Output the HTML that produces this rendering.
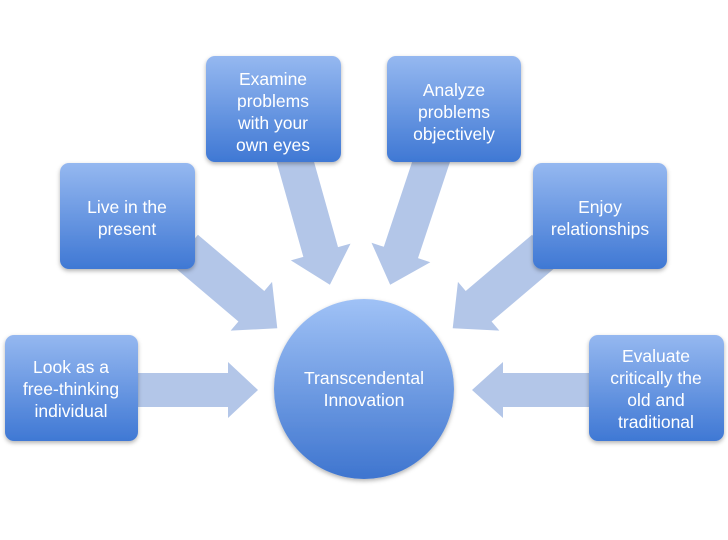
<!DOCTYPE html>
<html><head><meta charset="utf-8"><style>
body{margin:0;background:#fff;width:728px;height:540px;overflow:hidden}
svg{display:block}
text{font-family:"Liberation Sans",sans-serif;font-size:17.5px;fill:#fff;text-anchor:middle}
</style></head><body>
<svg width="728" height="540" viewBox="0 0 728 540">
<defs>
<linearGradient id="bx" x1="0" y1="0" x2="0" y2="1"><stop offset="0" stop-color="#95b8f0"/><stop offset="1" stop-color="#3f78d4"/></linearGradient>
<linearGradient id="ci" x1="0" y1="0" x2="0" y2="1"><stop offset="0" stop-color="#a0c2f6"/><stop offset="1" stop-color="#3e75cf"/></linearGradient>
<filter id="sh" x="-10%" y="-10%" width="130%" height="130%"><feDropShadow dx="0" dy="2" stdDeviation="2" flood-color="#000" flood-opacity="0.3"/></filter>
</defs>
<g fill="#b3c6e8">
<g transform="translate(138,390)"><polygon points="0,-17 90,-17 90,-28 120,0 90,28 90,17 0,17"/></g>
<g transform="translate(589,390) rotate(180)"><polygon points="0,-17 86,-17 86,-28 117,0 86,28 86,17 0,17"/></g>
<g transform="translate(185,250) rotate(40.3)"><polygon points="0,-20 87,-20 87,-32 121,0 87,32 87,20 0,20"/></g>
<g transform="translate(545,250) rotate(139.7)"><polygon points="0,-20 87,-20 87,-32 121,0 87,32 87,20 0,20"/></g>
<g transform="translate(292,150) rotate(74.3)"><polygon points="0,-18 106,-18 106,-31 140,0 106,31 106,18 0,18"/></g>
<g transform="translate(435,150) rotate(108.4)"><polygon points="0,-18 108,-18 108,-31 142,0 108,31 108,18 0,18"/></g>
</g>
<g filter="url(#sh)" fill="url(#bx)">
<rect x="5" y="335" width="133" height="106" rx="9"/>
<rect x="60" y="163" width="135" height="106" rx="9"/>
<rect x="206" y="56" width="135" height="106" rx="9"/>
<rect x="387" y="56" width="134" height="106" rx="9"/>
<rect x="533" y="163" width="134" height="106" rx="9"/>
<rect x="589" y="335" width="135" height="106" rx="9"/>
<circle cx="364" cy="389" r="90" fill="url(#ci)"/>
</g>
<text x="71" y="373">Look as a</text><text x="71" y="395">free-thinking</text><text x="71" y="417">individual</text>
<text x="127" y="213">Live in the</text><text x="127" y="235">present</text>
<text x="273" y="85">Examine</text><text x="273" y="107">problems</text><text x="273" y="129">with your</text><text x="273" y="151">own eyes</text>
<text x="454" y="96">Analyze</text><text x="454" y="118">problems</text><text x="454" y="140">objectively</text>
<text x="600" y="213">Enjoy</text><text x="600" y="235">relationships</text>
<text x="656" y="362">Evaluate</text><text x="656" y="384">critically the</text><text x="656" y="406">old and</text><text x="656" y="428">traditional</text>
<text x="364" y="384">Transcendental</text><text x="364" y="406">Innovation</text>
</svg>
</body></html>
